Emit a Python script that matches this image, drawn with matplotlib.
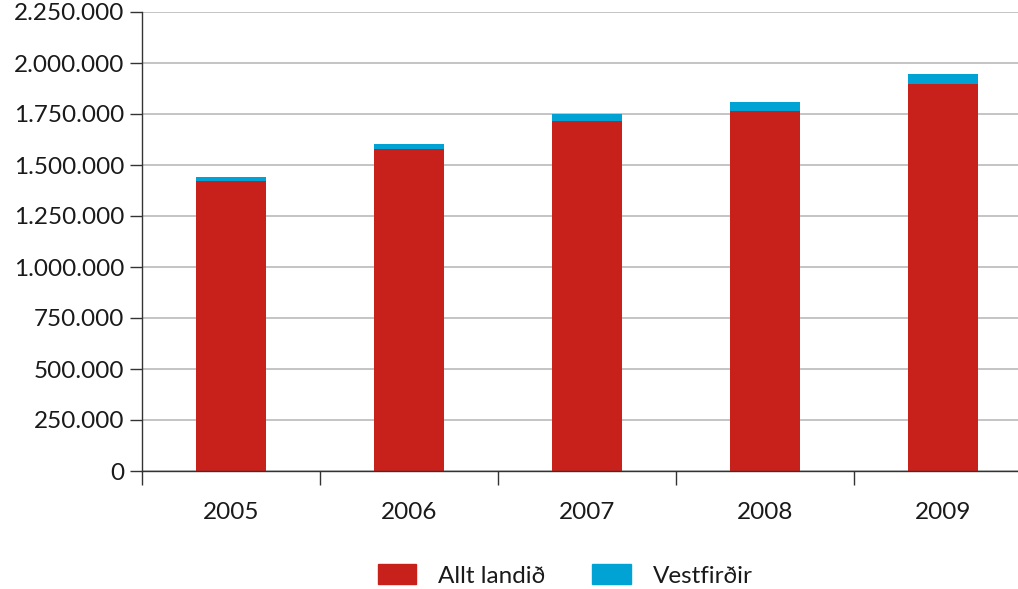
import matplotlib
matplotlib.use("Agg")
import matplotlib.pyplot as plt
from matplotlib.ticker import FuncFormatter
from matplotlib.patches import Patch

years = ["2005", "2006", "2007", "2008", "2009"]
allt_landid = [1420000, 1578000, 1716000, 1765000, 1897000]
vestfirdir = [20000, 25000, 34000, 44000, 49000]

plt.rcParams['font.family'] = ['Lato', 'DejaVu Sans']
plt.rcParams['font.weight'] = 'normal'
plt.rcParams['text.color'] = '#1a1a1a'
plt.rcParams['xtick.labelcolor'] = '#1a1a1a'
plt.rcParams['ytick.labelcolor'] = '#1a1a1a'

RED = "#C8201A"
BLUE = "#00A3D4"

fig = plt.figure(figsize=(10.18, 5.89), dpi=100)
ax = fig.add_axes([142/1018, 1-471/589, (1032-142)/1018, (471-12)/589])

x = list(range(len(years)))
ax.bar(x, allt_landid, width=0.393, color=RED, zorder=3)
ax.bar(x, vestfirdir, bottom=allt_landid, width=0.393, color=BLUE, zorder=3)

ax.set_xlim(-0.5, 4.5)
ax.set_ylim(0, 2250000)
ax.set_yticks([i*250000 for i in range(10)])
ax.yaxis.set_major_formatter(FuncFormatter(lambda v, p: f"{int(v):,}".replace(",", ".")))
ax.set_xticks(x)
ax.set_xticklabels(years)
ax.set_xticks([-0.5, 0.5, 1.5, 2.5, 3.5, 4.5], minor=True)
ax.tick_params(axis='x', which='major', length=0, pad=22, labelsize=17.5)
ax.tick_params(axis='x', which='minor', length=10, width=1, direction='out', color='#333333')
ax.tick_params(axis='y', length=9, width=1, direction='out', color='#333333', labelsize=17.5, pad=4)

ax.yaxis.grid(True, color='#BFBFBF', linewidth=1.3, zorder=0)
for s in ['top', 'right']:
    ax.spines[s].set_visible(False)
for s in ['left', 'bottom']:
    ax.spines[s].set_color('#333333')
    ax.spines[s].set_linewidth(1)
ax.spines['left'].set_zorder(4)
ax.spines['bottom'].set_zorder(4)

handles = [Patch(color=RED, label="Allt landið"), Patch(color=BLUE, label="Vestfirðir")]
fig.legend(handles=handles, loc='lower center', bbox_to_anchor=(565/1018, -0.033), ncol=2,
           frameon=False, fontsize=17.5, handlelength=1.6, handleheight=0.9,
           columnspacing=1.9, handletextpad=0.9)

fig.savefig("out.png", dpi=100)
